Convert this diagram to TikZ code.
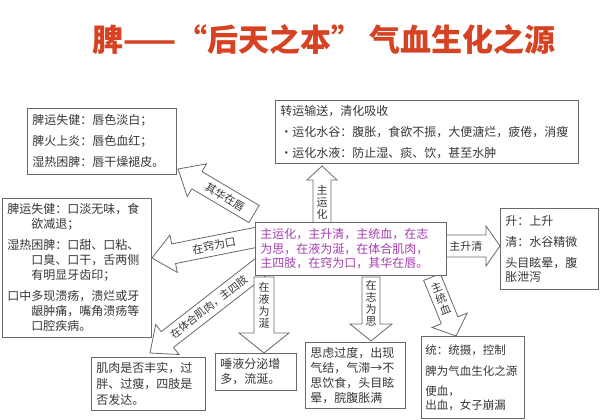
\documentclass[tikz,border=0pt]{standalone}
\usepackage{fontspec}
\newfontfamily\cjk{Noto Sans CJK SC}
\usetikzlibrary{calc}
\definecolor{titlered}{RGB}{214,66,34}
\definecolor{ctrpurple}{RGB}{165,60,175}
\definecolor{boxline}{RGB}{105,105,105}
\definecolor{txt}{RGB}{55,55,55}
\newcommand\blockarrow[6]{%
  \coordinate (#6) at ($(#2)!#5!(#1)$);
  \draw[barrow] ($(#1)!#3!90:(#2)$) -- ($(#6)!#3!90:(#2)$) -- ($(#6)!#4!90:(#2)$) -- (#2)
    -- ($(#6)!#4!-90:(#2)$) -- ($(#6)!#3!-90:(#2)$) -- ($(#1)!#3!-90:(#2)$) -- cycle;}
\tikzset{
  barrow/.style={draw=boxline, fill=white, line width=0.8pt, line join=miter},
  box/.style={draw=boxline, fill=white, line width=0.8pt, anchor=north west, align=left,
    text=txt, inner xsep=5pt, inner ysep=3pt, font=\cjk\fontsize{12}{15}\selectfont},
  atext/.style={font=\cjk\fontsize{11}{12}\selectfont, text=txt, inner sep=0pt, align=center}
}
\begin{document}
\begin{tikzpicture}[x=1pt,y=-1pt]
\useasboundingbox[fill=white] (0,0) rectangle (600,420);
% title
\node[font=\cjk\bfseries\fontsize{31}{33}\selectfont, text=titlered] (title) at (324,40)
  {脾——“后天之本”\hspace{0.2em}气血生化之源};
% arrow ends
\coordinate (a1) at (254,214); \coordinate (p1) at (178,169);
\coordinate (a2) at (258,237); \coordinate (p2) at (152,258);
\coordinate (a3) at (262,266); \coordinate (p3) at (150,353);
\coordinate (a4) at (322,224); \coordinate (p4) at (322,166);
\coordinate (a5) at (444,246); \coordinate (p5) at (500,246);
\coordinate (a6) at (264,277); \coordinate (p6) at (264,353);
\coordinate (a7) at (371,277); \coordinate (p7) at (371,341);
\coordinate (a8) at (432,277); \coordinate (p8) at (456,336);
% block arrows
\blockarrow{a1}{p1}{10pt}{19pt}{22pt}{h1}
\node[atext, rotate=-30] (t1) at ($(a1)!0.5!(h1)$) {其华在唇};
\blockarrow{a2}{p2}{10pt}{19pt}{22pt}{h2}
\node[atext, rotate=11] (t2) at ($(a2)!0.52!(h2)$) {在窍为口};
\blockarrow{a3}{p3}{10pt}{19pt}{22pt}{h3}
\node[atext, rotate=38, font=\cjk\fontsize{10.5}{11}\selectfont] (t3) at ($(a3)!0.56!(h3)$) {在体合肌肉，主四肢};
\blockarrow{a4}{p4}{9pt}{15pt}{14pt}{h4}
\node[atext] (t4) at ($(a4)!0.5!(h4)$) {主\\运\\化};
\blockarrow{a5}{p5}{11pt}{20pt}{14pt}{h5}
\node[atext] (t5) at ($(a5)!0.52!(h5)$) {主升清};
\blockarrow{a6}{p6}{10pt}{25pt}{20pt}{h6}
\node[atext] (t6) at ($(a6)!0.5!(h6)$) {在\\液\\为\\涎};
\blockarrow{a7}{p7}{9pt}{21pt}{17pt}{h7}
\node[atext] (t7) at ($(a7)!0.56!(h7)$) {在\\志\\为\\思};
\blockarrow{a8}{p8}{9pt}{19pt}{17pt}{h8}
\node[atext, rotate=21] (t8) at ($(a8)!0.5!(h8)$) {主\\统\\血};
% boxes
\node[box, text width=139pt, minimum height=66pt, font=\cjk\fontsize{12}{21}\selectfont] (tl) at (27,108)
  {脾运失健：唇色淡白；\\脾火上炎：唇色血红；\\湿热困脾：唇干燥褪皮。};
\node[box, text width=139pt, minimum height=139pt] (lm) at (2,198)
  {脾运失健：口淡无味，食\\\hspace*{2em}欲减退；\\[6pt]湿热困脾：口甜、口粘、\\\hspace*{2em}口臭、口干，舌两侧\\\hspace*{2em}有明显牙齿印；\\[6pt]口中多现溃疡，溃烂或牙\\\hspace*{2em}龈肿痛，嘴角溃疡等\\\hspace*{2em}口腔疾病。};
\node[box, text width=293pt, minimum height=63pt, font=\cjk\fontsize{12}{21}\selectfont] (top) at (275,100)
  {转运输送，清化吸收\\•运化水谷：腹胀，食欲不振，大便溏烂，疲倦，消瘦\\•运化水液：防止湿、痰、饮，甚至水肿};
\node[box, text width=181pt, minimum height=53pt, text=ctrpurple, font=\cjk\fontsize{12}{14.5}\selectfont] (ctr) at (255,222)
  {主运化，主升清，主统血，在志\\为思，在液为涎，在体合肌肉，\\主四肢，在窍为口，其华在唇。};
\node[box, text width=88pt, minimum height=81pt, font=\cjk\fontsize{12}{14}\selectfont] (rt) at (500,208)
  {升：上升\\[7pt]清：水谷精微\\[7pt]头目眩晕，腹\\胀泄泻};
\node[box, text width=104pt, minimum height=53pt, font=\cjk\fontsize{12}{16}\selectfont] (b1) at (91,357)
  {肌肉是否丰实，过\\胖、过瘦，四肢是\\否发达。};
\node[box, text width=71pt, minimum height=37pt] (b2) at (215,353)
  {唾液分泌增\\多，流涎。};
\node[box, text width=90pt, minimum height=66pt] (b3) at (305,342)
  {思虑过度，出现\\气结，气滞→不\\思饮食，头目眩\\晕，脘腹胀满};
\node[box, text width=95pt, inner xsep=4pt, minimum height=82pt, font=\cjk\fontsize{11.5}{14}\selectfont] (b4) at (421,336)
  {统：统摄，控制\\[7pt]脾为气血生化之源\\[6pt]便血，\\出血，女子崩漏};
\end{tikzpicture}
\end{document}
